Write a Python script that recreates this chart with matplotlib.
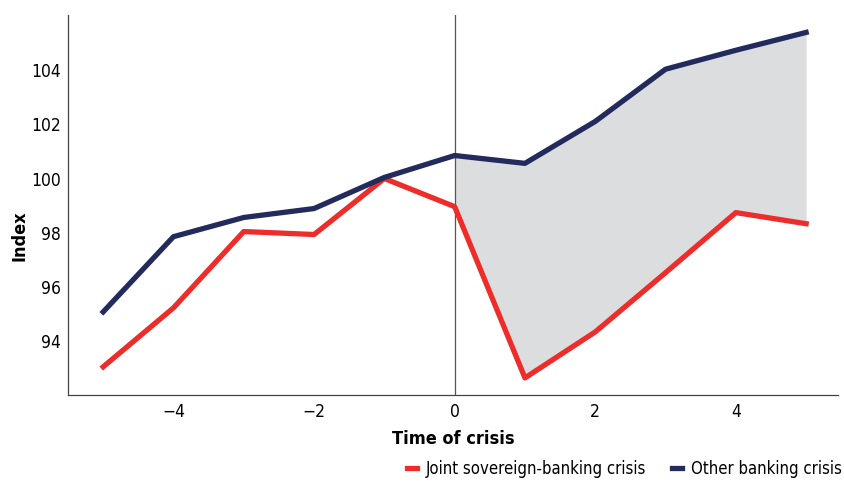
import numpy as np
import matplotlib.pyplot as plt

plt.rcParams['font.family'] = ['DejaVu Sans']
plt.rcParams['font.stretch'] = 'condensed'

# data
years = [-5, -4, -3, -2, -1, 0, 1, 2, 3, 4, 5]
joint = [93.04, 95.22, 98.04, 97.93, 100.0, 98.96, 92.63, 94.33, 96.52, 98.74, 98.33]
other = [95.07, 97.85, 98.56, 98.89, 100.04, 100.85, 100.56, 102.11, 104.04, 104.74, 105.4]
yticks = [94, 96, 98, 100, 102, 104]
xticks = [-4, -2, 0, 2, 4]
xtick_labels = ['\u22124', '\u22122', '0', '2', '4']

red = '#ee2d2b'
navy = '#232a5c'

fig = plt.figure(figsize=(8.44, 4.87), dpi=100)
ax = fig.add_axes([0.0806, 0.189, 0.912, 0.780])

# shaded gap after the crisis
xs = np.array(years)
after = xs >= 0
ax.fill_between(xs[after], np.array(joint)[after], np.array(other)[after],
                color='#dcdddf', linewidth=0, zorder=1)
ax.axvline(0, color='#555555', linewidth=0.9, zorder=2)

ax.plot(years, joint, color=red, linewidth=3.8, label='Joint sovereign-banking crisis', zorder=3)
ax.plot(years, other, color=navy, linewidth=3.8, label='Other banking crisis', zorder=3)

ax.set_xlim(-5.5, 5.45)
ax.set_ylim(92, 106.04)
ax.set_yticks(yticks)
ax.set_xticks(xticks)
ax.set_xticklabels(xtick_labels)
ax.tick_params(length=0, labelsize=12.5)
ax.tick_params(axis='y', pad=5)
ax.tick_params(axis='x', pad=6)
ax.spines['top'].set_visible(False)
ax.spines['right'].set_visible(False)
for s in ['left', 'bottom']:
    ax.spines[s].set_color('#444444')
    ax.spines[s].set_linewidth(0.9)

ax.set_xlabel('Time of crisis', fontsize=13, fontweight='bold', labelpad=6)
ax.set_ylabel('Index', fontsize=13, fontweight='bold')
ax.yaxis.set_label_coords(-0.052, 0.42)

fig.legend(loc='lower right', bbox_to_anchor=(1.015, -0.012), ncol=2, frameon=False,
           fontsize=12, handlelength=0.6, handletextpad=0.5, columnspacing=1.6)

fig.savefig('out.png', dpi=100)
